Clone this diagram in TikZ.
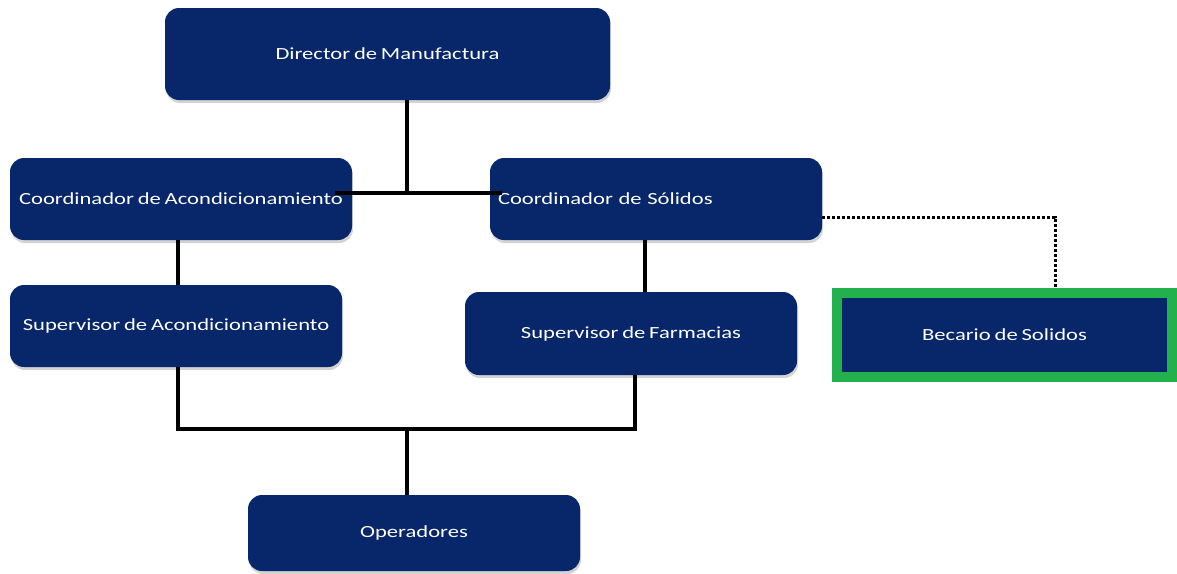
\documentclass[tikz,border=0pt]{standalone}
\usepackage{fontspec}
\setmainfont{Carlito}[FakeStretch=1.33, WordSpace=0.75]
\usetikzlibrary{shadows}
\definecolor{orgnavy}{HTML}{08266A}
\definecolor{orggreen}{HTML}{23B14D}

\begin{document}
\begin{tikzpicture}[
            x=1pt, y=1pt,
            box/.style={rectangle, rounded corners=14pt, fill=orgnavy, text=white,
                drop shadow={opacity=0.35, shadow xshift=1pt, shadow yshift=-3pt},
                font=\fontsize{17}{20}\selectfont, inner sep=8pt},
            greenbox/.style={rectangle, fill=orgnavy, draw=orggreen, line width=10pt, text=white,
                font=\fontsize{17}{20}\selectfont},
            conn/.style={line width=3.6pt, black},
            dotconn/.style={line width=3pt, black, dash pattern=on 3pt off 2pt}
        ]
            \useasboundingbox (0,0) rectangle (1177,-573);

            % Boxes
            \node[box, minimum width=445pt, minimum height=92pt] (dir) at (387.5,-54) {Director de Manufactura};
            \node[box, minimum width=342pt, minimum height=82pt] (ca) at (181,-199) {Coordinador de Acondicionamiento};
            \node[box, minimum height=82pt, text width=316pt, align=left] (cs) at (656,-199) {Coordinador de S\'olidos};
            \node[box, minimum width=332pt, minimum height=82pt] (sa) at (176,-326) {Supervisor de Acondicionamiento};
            \node[box, minimum width=332pt, minimum height=83pt] (sf) at (631,-333.5) {Supervisor de Farmacias};
            \node[greenbox, minimum width=335pt, minimum height=84pt] (bec) at (1004.5,-335) {Becario de Solidos};
            \node[box, minimum width=332pt, minimum height=76pt] (op) at (414,-533) {Operadores};

            % Junctions
            \coordinate (jtop) at (407,-193);
            \coordinate (jl) at (335,-193);
            \coordinate (jr) at (502,-193);
            \coordinate (jbot) at (407,-429);
            \coordinate (jdot) at (1055,-217);

            % Solid connectors
            \draw[conn] (dir.south -| jtop) -- (jtop);
            \draw[conn] (jl) -- (jr);
            \draw[conn] (ca.south -| 178,0) -- (sa.north -| 178,0);
            \draw[conn] (cs.south -| 645,0) -- (sf.north -| 645,0);
            \draw[conn] (sa.south -| 178,0) |- (jbot) -| (sf.south -| 635,0);
            \draw[conn] (jbot) -- (op.north -| jbot);

            % Dotted connector
            \draw[dotconn] (cs.east |- jdot) -- (jdot) -- (bec.north -| jdot);
        \end{tikzpicture}
\end{document}
